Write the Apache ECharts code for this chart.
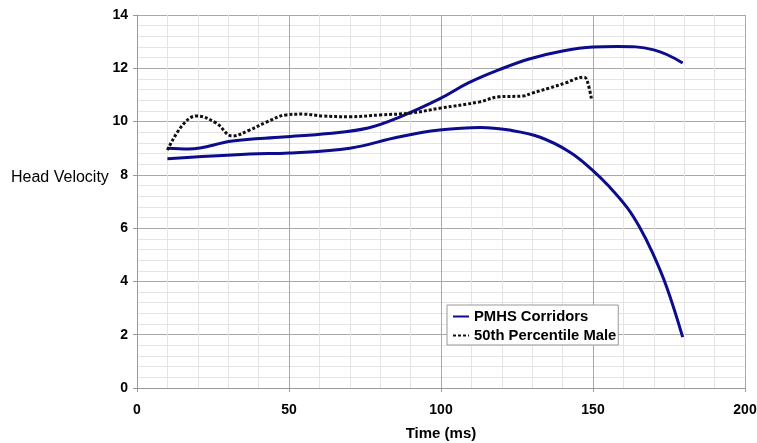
<!DOCTYPE html>
<html>
<head>
<meta charset="utf-8">
<script src="https://cdn.jsdelivr.net/npm/echarts@6/dist/echarts.min.js"></script>
<style>
  html, body { margin: 0; padding: 0; background: #fff; }
  #chart { width: 757px; height: 443px; }
</style>
</head>
<body>
<div id="chart"></div>
<script>
  // upper corridor (PMHS)
  var upperTime = [10, 17, 31.4, 48, 63, 76, 86, 99.5, 109, 119, 129, 140, 150, 158, 170, 179.5];
  var upperVel = [9.0, 8.97, 9.27, 9.42, 9.55, 9.76, 10.15, 10.85, 11.45, 11.94, 12.35, 12.65, 12.8, 12.82, 12.69, 12.2];
  // lower corridor (PMHS)
  var lowerTime = [10, 37, 50, 70, 86, 99.5, 113, 122.5, 132.4, 142.3, 149.8, 155.4, 161.3, 165.3, 169.6, 174.2, 179.5];
  var lowerVel = [8.6, 8.78, 8.82, 9.0, 9.42, 9.68, 9.78, 9.68, 9.42, 8.86, 8.18, 7.55, 6.76, 6.04, 5.07, 3.8, 1.91];
  // 50th percentile male
  var maleTime = [10, 15, 19.6, 26, 31.4, 37, 42.6, 49, 54.5, 61, 70, 80, 90, 99.5, 112.7, 119, 127, 130, 135.7, 141, 147, 148, 149.5];
  var maleVel = [8.93, 9.87, 10.21, 9.95, 9.46, 9.68, 9.98, 10.25, 10.28, 10.21, 10.18, 10.25, 10.32, 10.5, 10.74, 10.93, 10.96, 11.07, 11.26, 11.45, 11.67, 11.56, 10.85];

  var xTicks = [0, 50, 100, 150, 200];
  var yTicks = [0, 2, 4, 6, 8, 10, 12, 14];

  function pairs(xs, ys) {
    return xs.map(function (x, i) { return [x, ys[i]]; });
  }

  var myCharts = echarts.init(document.getElementById('chart'));
  var tickFont = { color: '#000', fontFamily: 'Liberation Sans', fontWeight: 'bold', fontSize: 14 };
  var blue = '#0c0c8c';

  var option = {
    animation: false,
    grid: { left: 137, right: 12, top: 15, bottom: 55, outerBoundsMode: 'none' },
    legend: {
      orient: 'vertical',
      left: 447,
      top: 305,
      padding: [4, 2, 2, 5],
      itemGap: 4,
      itemWidth: 16,
      itemHeight: 14,
      backgroundColor: '#fff',
      borderColor: '#999',
      borderWidth: 1,
      borderRadius: 0,
      itemStyle: { opacity: 0 },
      textStyle: { color: '#000', fontFamily: 'Liberation Sans', fontWeight: 'bold', fontSize: 14.8 },
      data: ['PMHS Corridors', '50th Percentile Male']
    },
    graphic: [{
      type: 'text',
      left: 11,
      top: 170,
      style: { text: 'Head Velocity', fill: '#000', font: '16px "Liberation Sans"' }
    }],
    xAxis: {
      type: 'value',
      min: xTicks[0],
      max: xTicks[xTicks.length - 1],
      interval: 50,
      name: 'Time (ms)',
      nameLocation: 'middle',
      nameGap: 38,
      nameTextStyle: { color: '#000', fontFamily: 'Liberation Sans', fontWeight: 'bold', fontSize: 15 },
      axisLine: { lineStyle: { color: '#999' } },
      axisTick: { show: true, length: 4, lineStyle: { color: '#999' } },
      axisLabel: Object.assign({ margin: 15 }, tickFont),
      splitLine: { lineStyle: { color: '#a8a8a8' } },
      minorTick: { show: false, splitNumber: 5 },
      minorSplitLine: { show: true, lineStyle: { color: '#e4e4e4' } }
    },
    yAxis: {
      type: 'value',
      min: yTicks[0],
      max: yTicks[yTicks.length - 1],
      interval: 2,
      axisLine: { show: true, lineStyle: { color: '#999' } },
      axisTick: { show: true, length: 4, lineStyle: { color: '#999' } },
      axisLabel: Object.assign({ margin: 9 }, tickFont),
      splitLine: { lineStyle: { color: '#a8a8a8' } },
      minorTick: { show: false, splitNumber: 5 },
      minorSplitLine: { show: true, lineStyle: { color: '#e4e4e4' } }
    },
    series: [
      {
        name: 'PMHS Corridors',
        type: 'line',
        smooth: 0.4,
        symbol: 'none',
        color: blue,
        lineStyle: { color: blue, width: 3 },
        data: pairs(upperTime, upperVel)
      },
      {
        name: 'PMHS Corridors',
        type: 'line',
        smooth: 0.4,
        symbol: 'none',
        color: blue,
        lineStyle: { color: blue, width: 3 },
        data: pairs(lowerTime, lowerVel)
      },
      {
        name: '50th Percentile Male',
        type: 'line',
        smooth: 0.4,
        symbol: 'none',
        color: '#111',
        lineStyle: { color: '#111', width: 3, type: [3, 2] },
        data: pairs(maleTime, maleVel)
      }
    ]
  };
  myCharts.setOption(option);
</script>
</body>
</html>
